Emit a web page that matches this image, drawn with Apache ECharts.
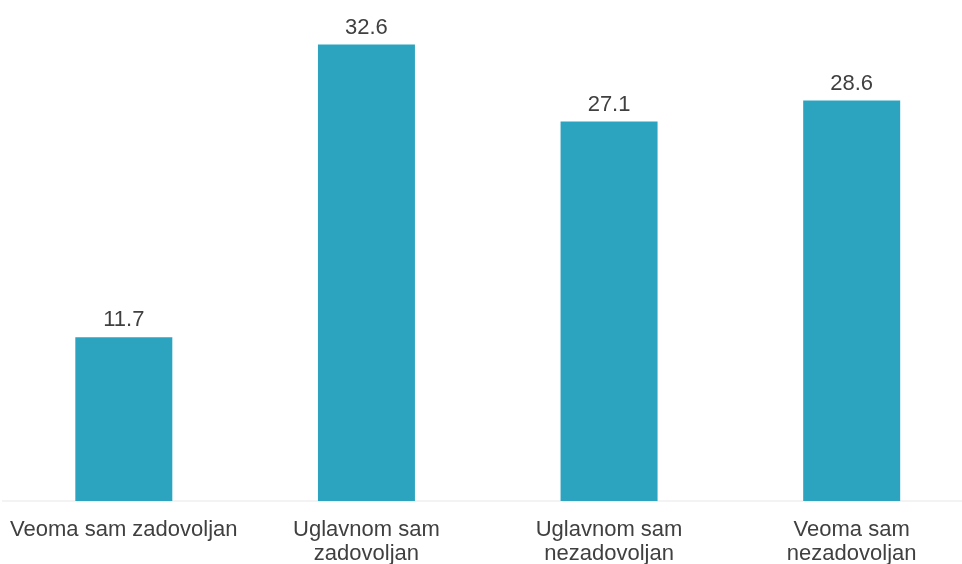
<!DOCTYPE html>
<html>
<head>
<meta charset="utf-8">
<style>
html,body{margin:0;padding:0;background:#fff;overflow:hidden;}
#chart{width:973px;height:564px;}
</style>
<script src="https://cdn.jsdelivr.net/npm/echarts@6/dist/echarts.min.js"></script>
</head>
<body>
<div id="chart"></div>
<script>
const categories = ["Veoma sam zadovoljan", "Uglavnom sam\nzadovoljan", "Uglavnom sam\nnezadovoljan", "Veoma sam\nnezadovoljan"];
const values = [11.7, 32.6, 27.1, 28.6];

const chart = echarts.init(document.getElementById('chart'));
chart.setOption({
  animation: false,
  grid: { left: 2.5, right: 0, top: 11, bottom: 63, containLabel: false, outerBoundsMode: 'none' },
  xAxis: {
    type: 'category',
    data: categories,
    axisLine: { show: true, lineStyle: { color: '#f0f0f0', width: 1.5 } },
    axisTick: { show: false },
    axisLabel: {
      interval: 0,
      margin: 17,
      color: '#404040',
      fontFamily: 'Liberation Sans, Arial, sans-serif',
      fontSize: 22,
      lineHeight: 24
    }
  },
  yAxis: {
    type: 'value',
    min: 0,
    max: 35,
    show: false,
    splitLine: { show: false }
  },
  series: [{
    type: 'bar',
    data: values,
    barWidth: 97,
    itemStyle: { color: '#2ca3bf' },
    label: {
      show: true,
      position: 'top',
      distance: 6,
      color: '#404040',
      fontFamily: 'Liberation Sans, Arial, sans-serif',
      fontSize: 22,
      formatter: p => p.value.toFixed(1)
    }
  }]
});
</script>
</body>
</html>
